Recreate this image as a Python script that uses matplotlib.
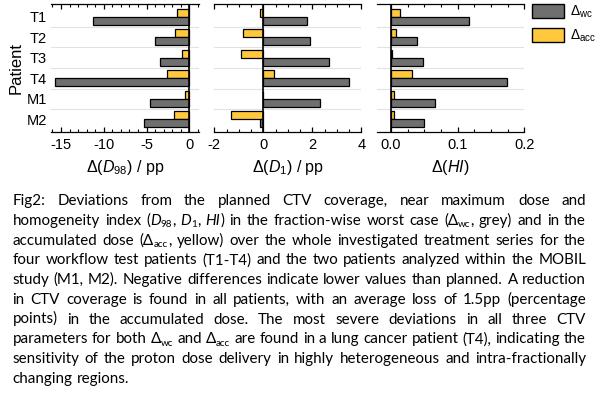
import re
import numpy as np
import matplotlib
matplotlib.use("Agg")
import matplotlib.pyplot as plt
from matplotlib.ticker import MultipleLocator, FormatStrFormatter, FixedLocator
from matplotlib.patches import Patch

plt.rcParams["font.family"] = ["Liberation Sans", "DejaVu Sans"]
plt.rcParams["mathtext.fontset"] = "custom"
plt.rcParams["mathtext.rm"] = "Liberation Sans"
plt.rcParams["mathtext.it"] = "Liberation Sans:italic"
plt.rcParams["mathtext.bf"] = "Liberation Sans:bold"
plt.rcParams["axes.unicode_minus"] = False

# ---------------- data ----------------
patients = ["T1", "T2", "T3", "T4", "M1", "M2"]
d98_wc = [-11.25, -3.98, -3.40, -15.66, -4.65, -5.35]
d98_acc = [-1.48, -1.68, -0.90, -2.62, -0.50, -1.80]
d1_wc = [1.77, 1.92, 2.67, 3.51, 2.30, -0.15]
d1_acc = [-0.12, -0.82, -0.90, 0.44, -0.03, -1.31]
hi_wc = [0.117, 0.0385, 0.048, 0.1735, 0.066, 0.0495]
hi_acc = [0.014, 0.008, 0.001, 0.031, 0.005, 0.005]

xlabels = [r"Δ($\mathit{D}_{98}$) / pp", r"Δ($\mathit{D}_{1}$) / pp", r"Δ($\mathit{HI}$)"]
legend_labels = [r"$\Delta_{\mathrm{wc}}$", r"$\Delta_{\mathrm{acc}}$"]

caption_lines = [
    "Fig2: Deviations from the planned CTV coverage, near maximum dose and",
    "homogeneity index (*D*_{98}, *D*_{1}, *HI*) in the fraction-wise worst case (Δ_{wc}, grey) and in the",
    "accumulated dose (Δ_{acc}, yellow) over the whole investigated treatment series for the",
    "four workflow test patients (T1-T4) and the two patients analyzed within the MOBIL",
    "study (M1, M2). Negative differences indicate lower values than planned. A reduction",
    "in CTV coverage is found in all patients, with an average loss of 1.5pp (percentage",
    "points) in the accumulated dose. The most severe deviations in all three CTV",
    "parameters for both Δ_{wc} and Δ_{acc} are found in a lung cancer patient (T4), indicating the",
    "sensitivity of the proton dose delivery in highly heterogeneous and intra-fractionally",
    "changing regions.",
]

# ---------------- style ----------------
GREY = "#6f6f6f"
YELLOW = "#ffc83d"
GRID = "#e2e2e2"
W, H = 600, 399

fig = plt.figure(figsize=(6, 3.99), dpi=100)
fig.patch.set_facecolor("white")


def px_axes(x0, x1, y0, y1):
    return fig.add_axes([x0 / W, 1 - y1 / H, (x1 - x0) / W, (y1 - y0) / H])


panels = [
    dict(px=(51, 199), wc=d98_wc, acc=d98_acc, xlim=(-16.17, 1.13), major=5, minor=1, fmt="%d"),
    dict(px=(214.3, 361.3), wc=d1_wc, acc=d1_acc, xlim=(-2, 4), major=2, minor=0.5, fmt="%d"),
    dict(px=(376.7, 524.3), wc=hi_wc, acc=hi_acc, xlim=(-0.0215, 0.2), major=0.1, minor=0.025, fmt="%.1f"),
]

ypos = np.arange(len(patients))
bh = 0.383
for i, p in enumerate(panels):
    ax = px_axes(p["px"][0], p["px"][1], 4, 132)
    ax.set_axisbelow(True)
    ax.barh(ypos - bh / 2, p["acc"], height=bh, color=YELLOW, edgecolor="black", linewidth=0.9, zorder=2)
    ax.barh(ypos + bh / 2, p["wc"], height=bh, color=GREY, edgecolor="black", linewidth=0.9, zorder=2)
    ax.axvline(0, color="black", lw=1.2, zorder=3)
    ax.set_ylim(5.62, -0.62)
    ax.set_xlim(*p["xlim"])
    ax.set_yticks(ypos)
    ax.yaxis.set_minor_locator(FixedLocator(ypos[:-1] + 0.5))
    ax.grid(axis="y", which="minor", color=GRID, lw=0.8)
    ax.tick_params(axis="y", which="both", length=0, pad=3, labelsize=10.5)
    if i == 0:
        ax.set_yticklabels(patients)
        ax.set_ylabel("Patient", fontsize=12, va="center")
        ax.yaxis.set_label_coords((15.7 - 51) / 148, 0.5)
    else:
        ax.set_yticklabels([])
    for s in ("left", "right"):
        ax.spines[s].set_visible(False)
    for s in ("top", "bottom"):
        ax.spines[s].set_linewidth(0.9)
    ax.xaxis.set_major_locator(MultipleLocator(p["major"]))
    ax.xaxis.set_minor_locator(MultipleLocator(p["minor"]))
    ax.xaxis.set_major_formatter(FormatStrFormatter(p["fmt"]))
    ax.tick_params(axis="x", which="both", direction="in", top=True, bottom=True, labelsize=10.5, pad=4)
    ax.tick_params(axis="x", which="major", length=3.5, width=0.9)
    ax.tick_params(axis="x", which="minor", length=2, width=0.8)
    ax.set_xlabel(xlabels[i], fontsize=11.5, labelpad=4.5)

handles = [
    Patch(facecolor=GREY, edgecolor="black", linewidth=1.0, label=legend_labels[0]),
    Patch(facecolor=YELLOW, edgecolor="black", linewidth=1.0, label=legend_labels[1]),
]
fig.legend(handles=handles, loc="upper left", bbox_to_anchor=(531.7 / W, 1 - 4 / H),
           frameon=False, borderpad=0, borderaxespad=0, handlelength=2.3, handleheight=1.15,
           handletextpad=0.45, labelspacing=0.5, fontsize=10)

# ---------------- caption (justified) ----------------
CAP_FAMILY = ["Lato", "DejaVu Sans"]
renderer = fig.canvas.get_renderer()


def parse_word(word):
    segs = []
    for part in re.split(r"(\*[^*]+\*|_\{[^}]+\})", word):
        if not part:
            continue
        if part.startswith("*"):
            segs.append((part[1:-1], "it"))
        elif part.startswith("_{"):
            segs.append((part[2:-1], "sub"))
        else:
            segs.append((part, "n"))
    return segs


def seg_props(style, fs):
    if style == "it":
        return dict(fontsize=fs, fontstyle="italic")
    if style == "sub":
        return dict(fontsize=fs * 0.65)
    return dict(fontsize=fs)


def measure(txt, style, fs):
    t = fig.text(0, 0, txt, family=CAP_FAMILY, **seg_props(style, fs))
    w = t.get_window_extent(renderer).width
    t.remove()
    return w


def word_width(segs, fs):
    return sum(measure(s, st, fs) for s, st in segs)


def space_width(fs):
    return measure("n n", "n", fs) - measure("nn", "n", fs)


parsed = [[parse_word(w) for w in line.split(" ")] for line in caption_lines]

# choose font size so the widest line fits the text block
X0, X1 = 12.5, 586.0
fs0 = 10.0
nat = [sum(word_width(w, fs0) for w in ws) + space_width(fs0) * (len(ws) - 1) for ws in parsed]
fs = fs0 * (X1 - X0 - 2) / max(nat)

base0, lead = 205.0, 19.75
for li, words in enumerate(parsed):
    widths = [word_width(w, fs) for w in words]
    if li == len(parsed) - 1 or len(words) == 1:
        gap = space_width(fs)
    else:
        gap = (X1 - X0 - sum(widths)) / (len(words) - 1)
    x = X0
    yb = base0 + li * lead
    for w, ww in zip(words, widths):
        xx = x
        for s, st in w:
            dy = fs * 0.18 * 100 / 72 if st == "sub" else 0
            fig.text(xx / W, 1 - (yb + dy) / H, s, family=CAP_FAMILY, va="baseline", ha="left",
                     color="black", **seg_props(st, fs))
            xx += measure(s, st, fs)
        x += ww + gap

fig.savefig("out.png", dpi=100)
